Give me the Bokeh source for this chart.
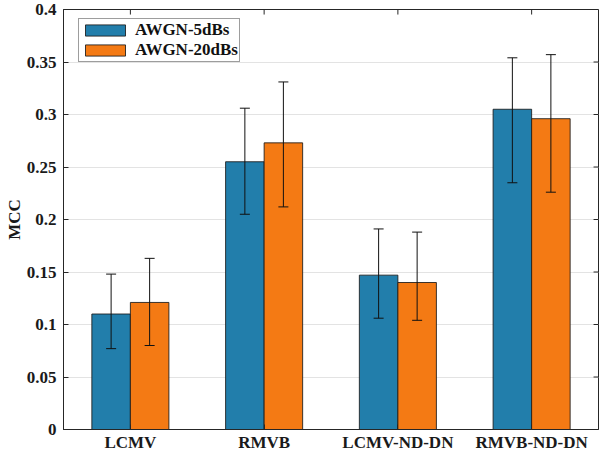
from bokeh.plotting import figure
from bokeh.models import (ColumnDataSource, Whisker, TeeHead, FixedTicker, Range1d,
                          Legend, LegendItem)
from bokeh.embed import file_html
from bokeh.resources import INLINE

categories = ["LCMV", "RMVB", "LCMV-ND-DN", "RMVB-ND-DN"]
series_names = ["AWGN-5dBs", "AWGN-20dBs"]
mcc_5db = [0.110, 0.255, 0.147, 0.305]
mcc_5db_lower = [0.077, 0.205, 0.106, 0.235]
mcc_5db_upper = [0.148, 0.306, 0.191, 0.354]
mcc_20db = [0.121, 0.273, 0.140, 0.296]
mcc_20db_lower = [0.080, 0.212, 0.104, 0.226]
mcc_20db_upper = [0.163, 0.331, 0.188, 0.357]
y_ticks = [0, 0.05, 0.1, 0.15, 0.2, 0.25, 0.3, 0.35, 0.4]
y_tick_labels = ["0", "0.05", "0.1", "0.15", "0.2", "0.25", "0.3", "0.35", "0.4"]

BLUE = "#227EAB"
ORANGE = "#F47A14"
FONT = "Liberation Serif"
AX = "#262626"

pos = [i + 1 for i in range(len(categories))]
bw = 0.288
off = bw / 2

src = ColumnDataSource(dict(
    xa=[x - off for x in pos], xb=[x + off for x in pos],
    a=mcc_5db, a_lo=mcc_5db_lower, a_hi=mcc_5db_upper,
    b=mcc_20db, b_lo=mcc_20db_lower, b_hi=mcc_20db_upper,
))

p = figure(x_range=Range1d(0.5, len(categories) + 0.5), y_range=Range1d(y_ticks[0], y_ticks[-1]),
           width=600, height=455, output_backend="svg", toolbar_location=None,
           min_border_left=63, min_border_right=2, min_border_top=9, min_border_bottom=26)
p.outline_line_color = AX
p.outline_line_width = 1

p.xgrid.visible = False
p.ygrid.ticker = FixedTicker(ticks=y_ticks)
p.ygrid.grid_line_color = "#e3e3e3"
p.ygrid.grid_line_width = 1

r1 = p.vbar(x="xa", top="a", width=bw, source=src,
            fill_color=BLUE, line_color="#1a1a1a", line_width=1, line_alpha=0.85)
r2 = p.vbar(x="xb", top="b", width=bw, source=src,
            fill_color=ORANGE, line_color="#1a1a1a", line_width=1, line_alpha=0.85)

for xcol, lo, hi in (("xa", "a_lo", "a_hi"), ("xb", "b_lo", "b_hi")):
    w = Whisker(base=xcol, lower=lo, upper=hi, source=src, level="overlay",
                line_color="#111111", line_width=1,
                upper_head=TeeHead(size=10, line_color="#111111", line_width=1),
                lower_head=TeeHead(size=10, line_color="#111111", line_width=1))
    p.add_layout(w)

# mirrored inward ticks on top and right (MATLAB box on)
xr_end = p.x_range.end
yr_end = p.y_range.end
tick_dx = 0.037
tick_dy = 0.0048
p.segment(x0=pos, y0=[yr_end] * len(pos), x1=pos, y1=[yr_end - tick_dy] * len(pos),
          line_color=AX, line_width=1)
p.segment(x0=[xr_end] * len(y_ticks), y0=y_ticks, x1=[xr_end - tick_dx] * len(y_ticks),
          y1=y_ticks, line_color=AX, line_width=1)

# axes styling
p.xaxis.ticker = FixedTicker(ticks=pos)
p.xaxis.major_label_overrides = {x: c for x, c in zip(pos, categories)}
p.yaxis.ticker = FixedTicker(ticks=y_ticks)
p.yaxis.major_label_overrides = {t: l for t, l in zip(y_ticks, y_tick_labels)}
p.yaxis.axis_label = "MCC"
p.yaxis.axis_label_standoff = 0
for ax in (p.xaxis[0], p.yaxis[0]):
    ax.major_label_text_font = FONT
    ax.major_label_text_font_style = "bold"
    ax.major_label_text_font_size = "17px"
    ax.major_label_text_color = "#1a1a1a"
    ax.axis_line_color = AX
    ax.major_tick_line_color = AX
    ax.major_tick_in = 5
    ax.major_tick_out = 0
    ax.minor_tick_line_color = None
p.yaxis.major_label_standoff = 7
p.xaxis.major_label_standoff = 3
p.yaxis.axis_label_text_font = FONT
p.yaxis.axis_label_text_font_style = "bold"
p.yaxis.axis_label_text_font_size = "17px"
p.yaxis.axis_label_text_color = "#1a1a1a"

legend = Legend(items=[LegendItem(label=series_names[0], renderers=[r1]),
                       LegendItem(label=series_names[1], renderers=[r2])],
                location=(15, 367))
legend.glyph_width = 50
legend.glyph_height = 14
legend.label_height = 14
legend.spacing = 0
legend.padding = 1
legend.margin = 0
legend.label_standoff = 5
legend.label_text_font = FONT
legend.label_text_font_style = "bold"
legend.label_text_font_size = "17px"
legend.label_text_color = "#111111"
legend.border_line_color = "#3c3c3c"
legend.border_line_width = 1
legend.background_fill_color = "white"
legend.background_fill_alpha = 1
p.add_layout(legend, "center")

open("out.html", "w").write(file_html(p, INLINE))
